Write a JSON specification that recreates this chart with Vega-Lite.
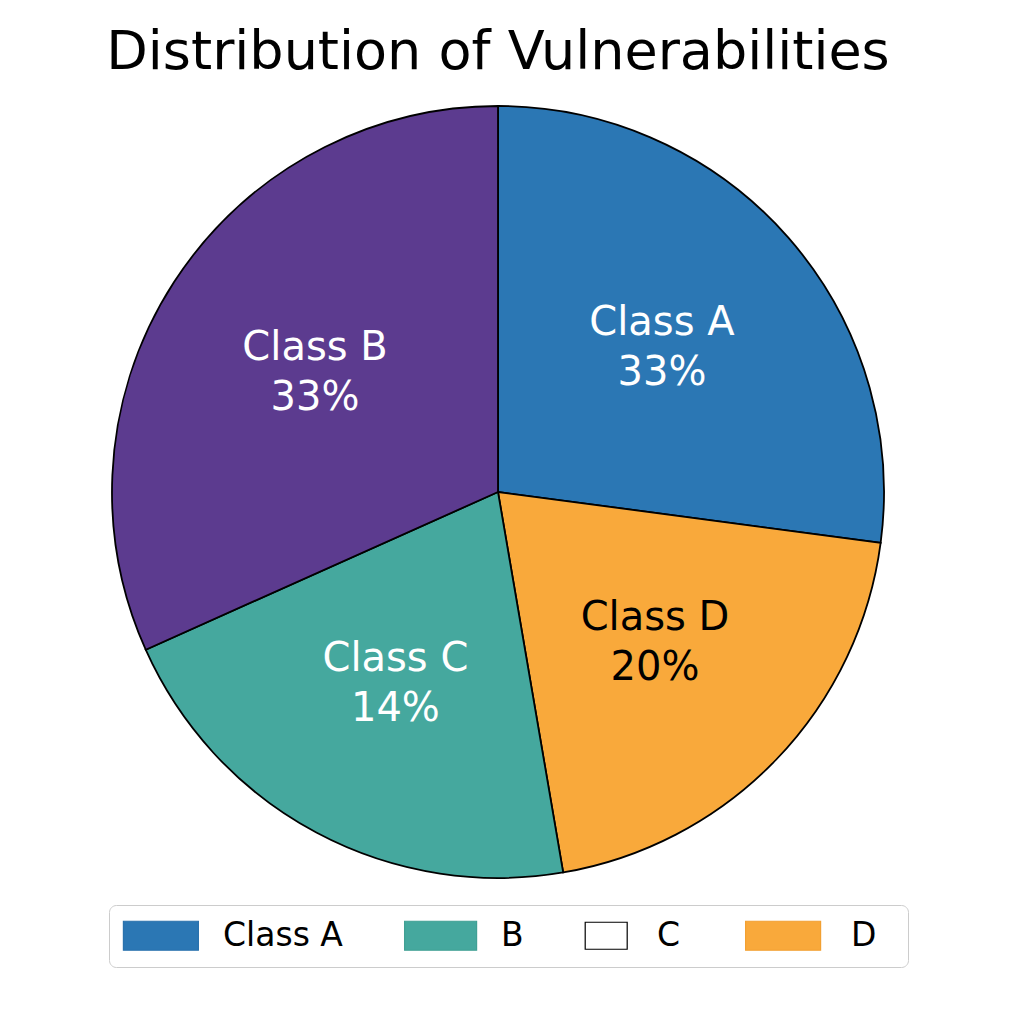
{
  "$schema": "https://vega.github.io/schema/vega-lite/v6.json",
  "autosize": "none",
  "width": 996,
  "height": 784,
  "padding": {"left": 0, "top": 100, "right": 28, "bottom": 140},
  "background": "white",
  "title": {
    "text": "Distribution of Vulnerabilities",
    "font": "DejaVu Sans",
    "fontSize": 54,
    "fontWeight": "normal",
    "color": "black",
    "baseline": "alphabetic",
    "offset": -23,
    "anchor": "middle"
  },
  "datasets": {
    "slices": [
      {"class": "Class A", "value": 27.1, "pct": "33%", "order": 1},
      {"class": "Class D", "value": 20.2, "pct": "20%", "order": 2},
      {"class": "Class C", "value": 21.0, "pct": "14%", "order": 3},
      {"class": "Class B", "value": 31.7, "pct": "33%", "order": 4}
    ],
    "legendEntries": [
      {"key": "Class A"},
      {"key": "B"},
      {"key": "C"},
      {"key": "D"}
    ]
  },
  "layer": [
    {
      "data": {"name": "slices"},
      "mark": {"type": "arc", "outerRadius": 386, "stroke": "black", "strokeWidth": 1.8},
      "encoding": {
        "theta": {"field": "value", "type": "quantitative", "stack": true},
        "order": {"field": "order", "type": "quantitative", "sort": "ascending"},
        "color": {
          "field": "class",
          "type": "nominal",
          "scale": {
            "domain": ["Class A", "Class B", "Class C", "Class D"],
            "range": ["#2b77b4", "#5c3b8f", "#45a89e", "#f9a93b"]
          },
          "legend": null
        }
      }
    },
    {
      "data": {"name": "slices"},
      "mark": {"type": "text", "radius": 218, "dy": -25, "font": "DejaVu Sans", "fontSize": 40, "baseline": "middle", "align": "center"},
      "encoding": {
        "theta": {"field": "value", "type": "quantitative", "stack": true},
        "order": {"field": "order", "type": "quantitative", "sort": "ascending"},
        "text": {"field": "class"},
        "detail": {"field": "class"},
        "color": {"condition": {"test": "datum['class'] === 'Class D'", "value": "black"}, "value": "white"}
      }
    },
    {
      "data": {"name": "slices"},
      "mark": {"type": "text", "radius": 218, "dy": 25, "font": "DejaVu Sans", "fontSize": 40, "baseline": "middle", "align": "center"},
      "encoding": {
        "theta": {"field": "value", "type": "quantitative", "stack": true},
        "order": {"field": "order", "type": "quantitative", "sort": "ascending"},
        "text": {"field": "pct"},
        "detail": {"field": "class"},
        "color": {"condition": {"test": "datum['class'] === 'Class D'", "value": "black"}, "value": "white"}
      }
    },
    {
      "data": {"name": "legendEntries"},
      "mark": {"type": "point", "filled": true, "opacity": 0, "size": 841, "strokeWidth": 1.2},
      "encoding": {
        "fill": {
          "field": "key",
          "type": "nominal",
          "scale": {"domain": ["Class A", "B", "C", "D"], "range": ["#2b77b4", "#45a89e", "#ffffff", "#f9a93b"]},
          "legend": {
            "orient": "none",
            "legendX": 109,
            "legendY": 805,
            "direction": "horizontal",
            "title": null,
            "labelFont": "DejaVu Sans",
            "labelFontSize": 33,
            "labelColor": "black",
            "labelOffset": 67,
            "symbolSize": 841,
            "symbolStrokeWidth": 1.2,
            "symbolOpacity": 1,
            "columnPadding": 18,
            "padding": 14,
            "fillColor": "white",
            "strokeColor": "#cccccc",
            "cornerRadius": 7
          }
        },
        "stroke": {
          "field": "key",
          "type": "nominal",
          "scale": {"domain": ["Class A", "B", "C", "D"], "range": ["#2a72ad", "#40a094", "#000000", "#f2a032"]},
          "legend": {
            "orient": "none",
            "legendX": 109,
            "legendY": 805,
            "direction": "horizontal",
            "title": null,
            "labelFont": "DejaVu Sans",
            "labelFontSize": 33,
            "labelColor": "black",
            "labelOffset": 67,
            "symbolSize": 841,
            "symbolStrokeWidth": 1.2,
            "symbolOpacity": 1,
            "columnPadding": 18,
            "padding": 14,
            "fillColor": "white",
            "strokeColor": "#cccccc",
            "cornerRadius": 7
          }
        },
        "shape": {
          "field": "key",
          "type": "nominal",
          "scale": {
            "domain": ["Class A", "B", "C", "D"],
            "range": [
              "M-1.110,-1H4.062V1H-1.110Z",
              "M-3.697,0M-0.890,-1H4.076V1H-0.890Z",
              "M-1.959,0M0.807,-0.931H3.703V0.931H0.807Z",
              "M-4.497,0M8.490,0M-1.510,-1H3.662V1H-1.510Z"
            ]
          },
          "legend": {
            "orient": "none",
            "legendX": 109,
            "legendY": 805,
            "direction": "horizontal",
            "title": null,
            "labelFont": "DejaVu Sans",
            "labelFontSize": 33,
            "labelColor": "black",
            "labelOffset": 67,
            "symbolSize": 841,
            "symbolStrokeWidth": 1.2,
            "symbolOpacity": 1,
            "columnPadding": 18,
            "padding": 14,
            "fillColor": "white",
            "strokeColor": "#cccccc",
            "cornerRadius": 7
          }
        }
      }
    }
  ],
  "config": {"view": {"stroke": null}}
}
